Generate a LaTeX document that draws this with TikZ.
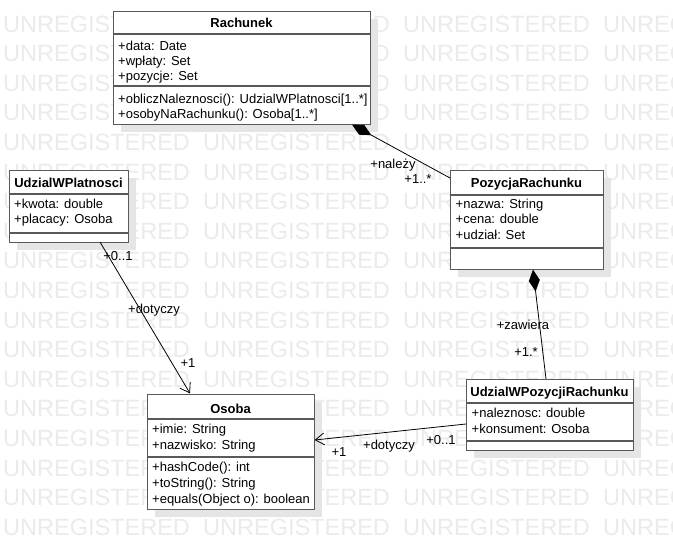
\documentclass[tikz,border=0pt]{standalone}
\usepackage{fontspec}
\setmainfont{Liberation Sans}
\usetikzlibrary{arrows.meta,shadows}
\begin{document}
\begin{tikzpicture}[x=1pt,y=-1pt]
\tikzset{
 cls/.style={draw=black!65, line width=1.2pt, fill=white, rectangle, inner sep=0pt, anchor=north west,
   general shadow={fill=black!10, shadow xshift=7pt, shadow yshift=-7pt}},
 sepl/.style={draw=black!65, line width=1.2pt},
 hdr/.style={font=\fontsize{13}{15}\selectfont\bfseries, inner sep=0pt, anchor=base},
 mem/.style={font=\fontsize{13}{15}\selectfont, inner sep=0pt, anchor=base west},
 lbl/.style={font=\fontsize{13}{15}\selectfont, inner sep=0pt, anchor=base},
 wm/.style={font=\fontsize{23.5}{28}\selectfont, text=black!8, inner sep=0pt, anchor=west},
 conn/.style={draw=black, line width=0.8pt},
 comp/.style={{Diamond[length=22pt,width=11pt]}-},
 nav/.style={-{Straight Barb[length=9pt,width=12pt]}},
}
\useasboundingbox (0,0) rectangle (673,549);
\fill[white] (0,0) rectangle (673,549);
% watermark
\begin{scope}
\clip (0,0) rectangle (673,549);
\foreach \r in {0,...,17}
  \foreach \i in {0,...,3}
    \node[wm] (wm-\r-\i) at ({3+200*\i},{24+29.6*\r}) {UNREGISTERED};
\end{scope}

% ---------- Rachunek ----------
\node[cls, minimum width=257pt, minimum height=113pt] (rach) at (113,11) {};
\draw[sepl] (rach.west |- 0,34) -- (rach.east |- 0,34);
\draw[sepl] (rach.west |- 0,86) -- (rach.east |- 0,86);
\node[hdr] (rachH) at (241.5,27.5) {Rachunek};
\node[mem] (rachA1) at (118,50) {+data: Date};
\node[mem] (rachA2) at (118,65) {+wpłaty: Set};
\node[mem] (rachA3) at (118,80) {+pozycje: Set};
\node[mem] (rachM1) at (118,103) {+obliczNaleznosci(): UdzialWPlatnosci[1..*]};
\node[mem] (rachM2) at (118,118) {+osobyNaRachunku(): Osoba[1..*]};

% ---------- UdzialWPlatnosci ----------
\node[cls, minimum width=119pt, minimum height=72pt] (udpl) at (9,170) {};
\draw[sepl] (udpl.west |- 0,194) -- (udpl.east |- 0,194);
\draw[sepl] (udpl.west |- 0,233) -- (udpl.east |- 0,233);
\node[hdr] (udplH) at (68.5,187.5) {UdzialWPlatnosci};
\node[mem] (udplA1) at (14,208) {+kwota: double};
\node[mem] (udplA2) at (14,223.5) {+placacy: Osoba};

% ---------- PozycjaRachunku ----------
\node[cls, minimum width=153pt, minimum height=99pt] (poz) at (450,170) {};
\draw[sepl] (poz.west |- 0,195) -- (poz.east |- 0,195);
\draw[sepl] (poz.west |- 0,248) -- (poz.east |- 0,248);
\node[hdr] (pozH) at (526.5,187.5) {PozycjaRachunku};
\node[mem] (pozA1) at (455.5,208) {+nazwa: String};
\node[mem] (pozA2) at (455.5,223.5) {+cena: double};
\node[mem] (pozA3) at (455.5,239) {+udział: Set};

% ---------- Osoba ----------
\node[cls, minimum width=167pt, minimum height=115pt] (os) at (147,394) {};
\draw[sepl] (os.west |- 0,419) -- (os.east |- 0,419);
\draw[sepl] (os.west |- 0,457) -- (os.east |- 0,457);
\node[hdr] (osH) at (230.5,413) {Osoba};
\node[mem] (osA1) at (152,433.5) {+imie: String};
\node[mem] (osA2) at (152,449) {+nazwisko: String};
\node[mem] (osM1) at (152,471) {+hashCode(): int};
\node[mem] (osM2) at (152,487) {+toString(): String};
\node[mem] (osM3) at (152,503) {+equals(Object o): boolean};

% ---------- UdzialWPozycjiRachunku ----------
\node[cls, minimum width=167pt, minimum height=71pt] (udpoz) at (466,379) {};
\draw[sepl] (udpoz.west |- 0,403) -- (udpoz.east |- 0,403);
\draw[sepl] (udpoz.west |- 0,441) -- (udpoz.east |- 0,441);
\node[hdr] (udpozH) at (549.5,396) {UdzialWPozycjiRachunku};
\node[mem] (udpozA1) at (471.5,417.5) {+naleznosc: double};
\node[mem] (udpozA2) at (471.5,433) {+konsument: Osoba};

% ---------- connector end points ----------
\coordinate (c1s) at (352,124.6);
\coordinate (c1e) at (450,178);
\coordinate (c2s) at (533,269.6);
\coordinate (c2e) at (546,379);
\coordinate (c3s) at (100,242);
\coordinate (c3e) at (190,393.4);
\coordinate (c4s) at (466,424);
\coordinate (c4e) at (314.6,440);

% ---------- connectors ----------
\draw[conn, comp] (c1s) -- (c1e);
\draw[conn, comp] (c2s) -- (c2e);
\draw[conn, nav] (c3s) -- (c3e);
\draw[conn, nav] (c4s) -- (c4e);

% ---------- labels ----------
\node[lbl] (l1a) at (393,168.5) {+należy};
\node[lbl] (l1b) at (418,183.5) {+1..*};
\node[lbl] (l2a) at (523,329.5) {+zawiera};
\node[lbl] (l2b) at (526,356.5) {+1.*};
\node[lbl] (l3a) at (118,260.5) {+0..1};
\node[lbl] (l3b) at (154,313) {+dotyczy};
\node[lbl] (l3c) at (188,367) {+1};
\node[lbl] (l4a) at (441,444.5) {+0..1};
\node[lbl] (l4b) at (389,449.5) {+dotyczy};
\node[lbl] (l4c) at (339,456.5) {+1};
\end{tikzpicture}
\end{document}
